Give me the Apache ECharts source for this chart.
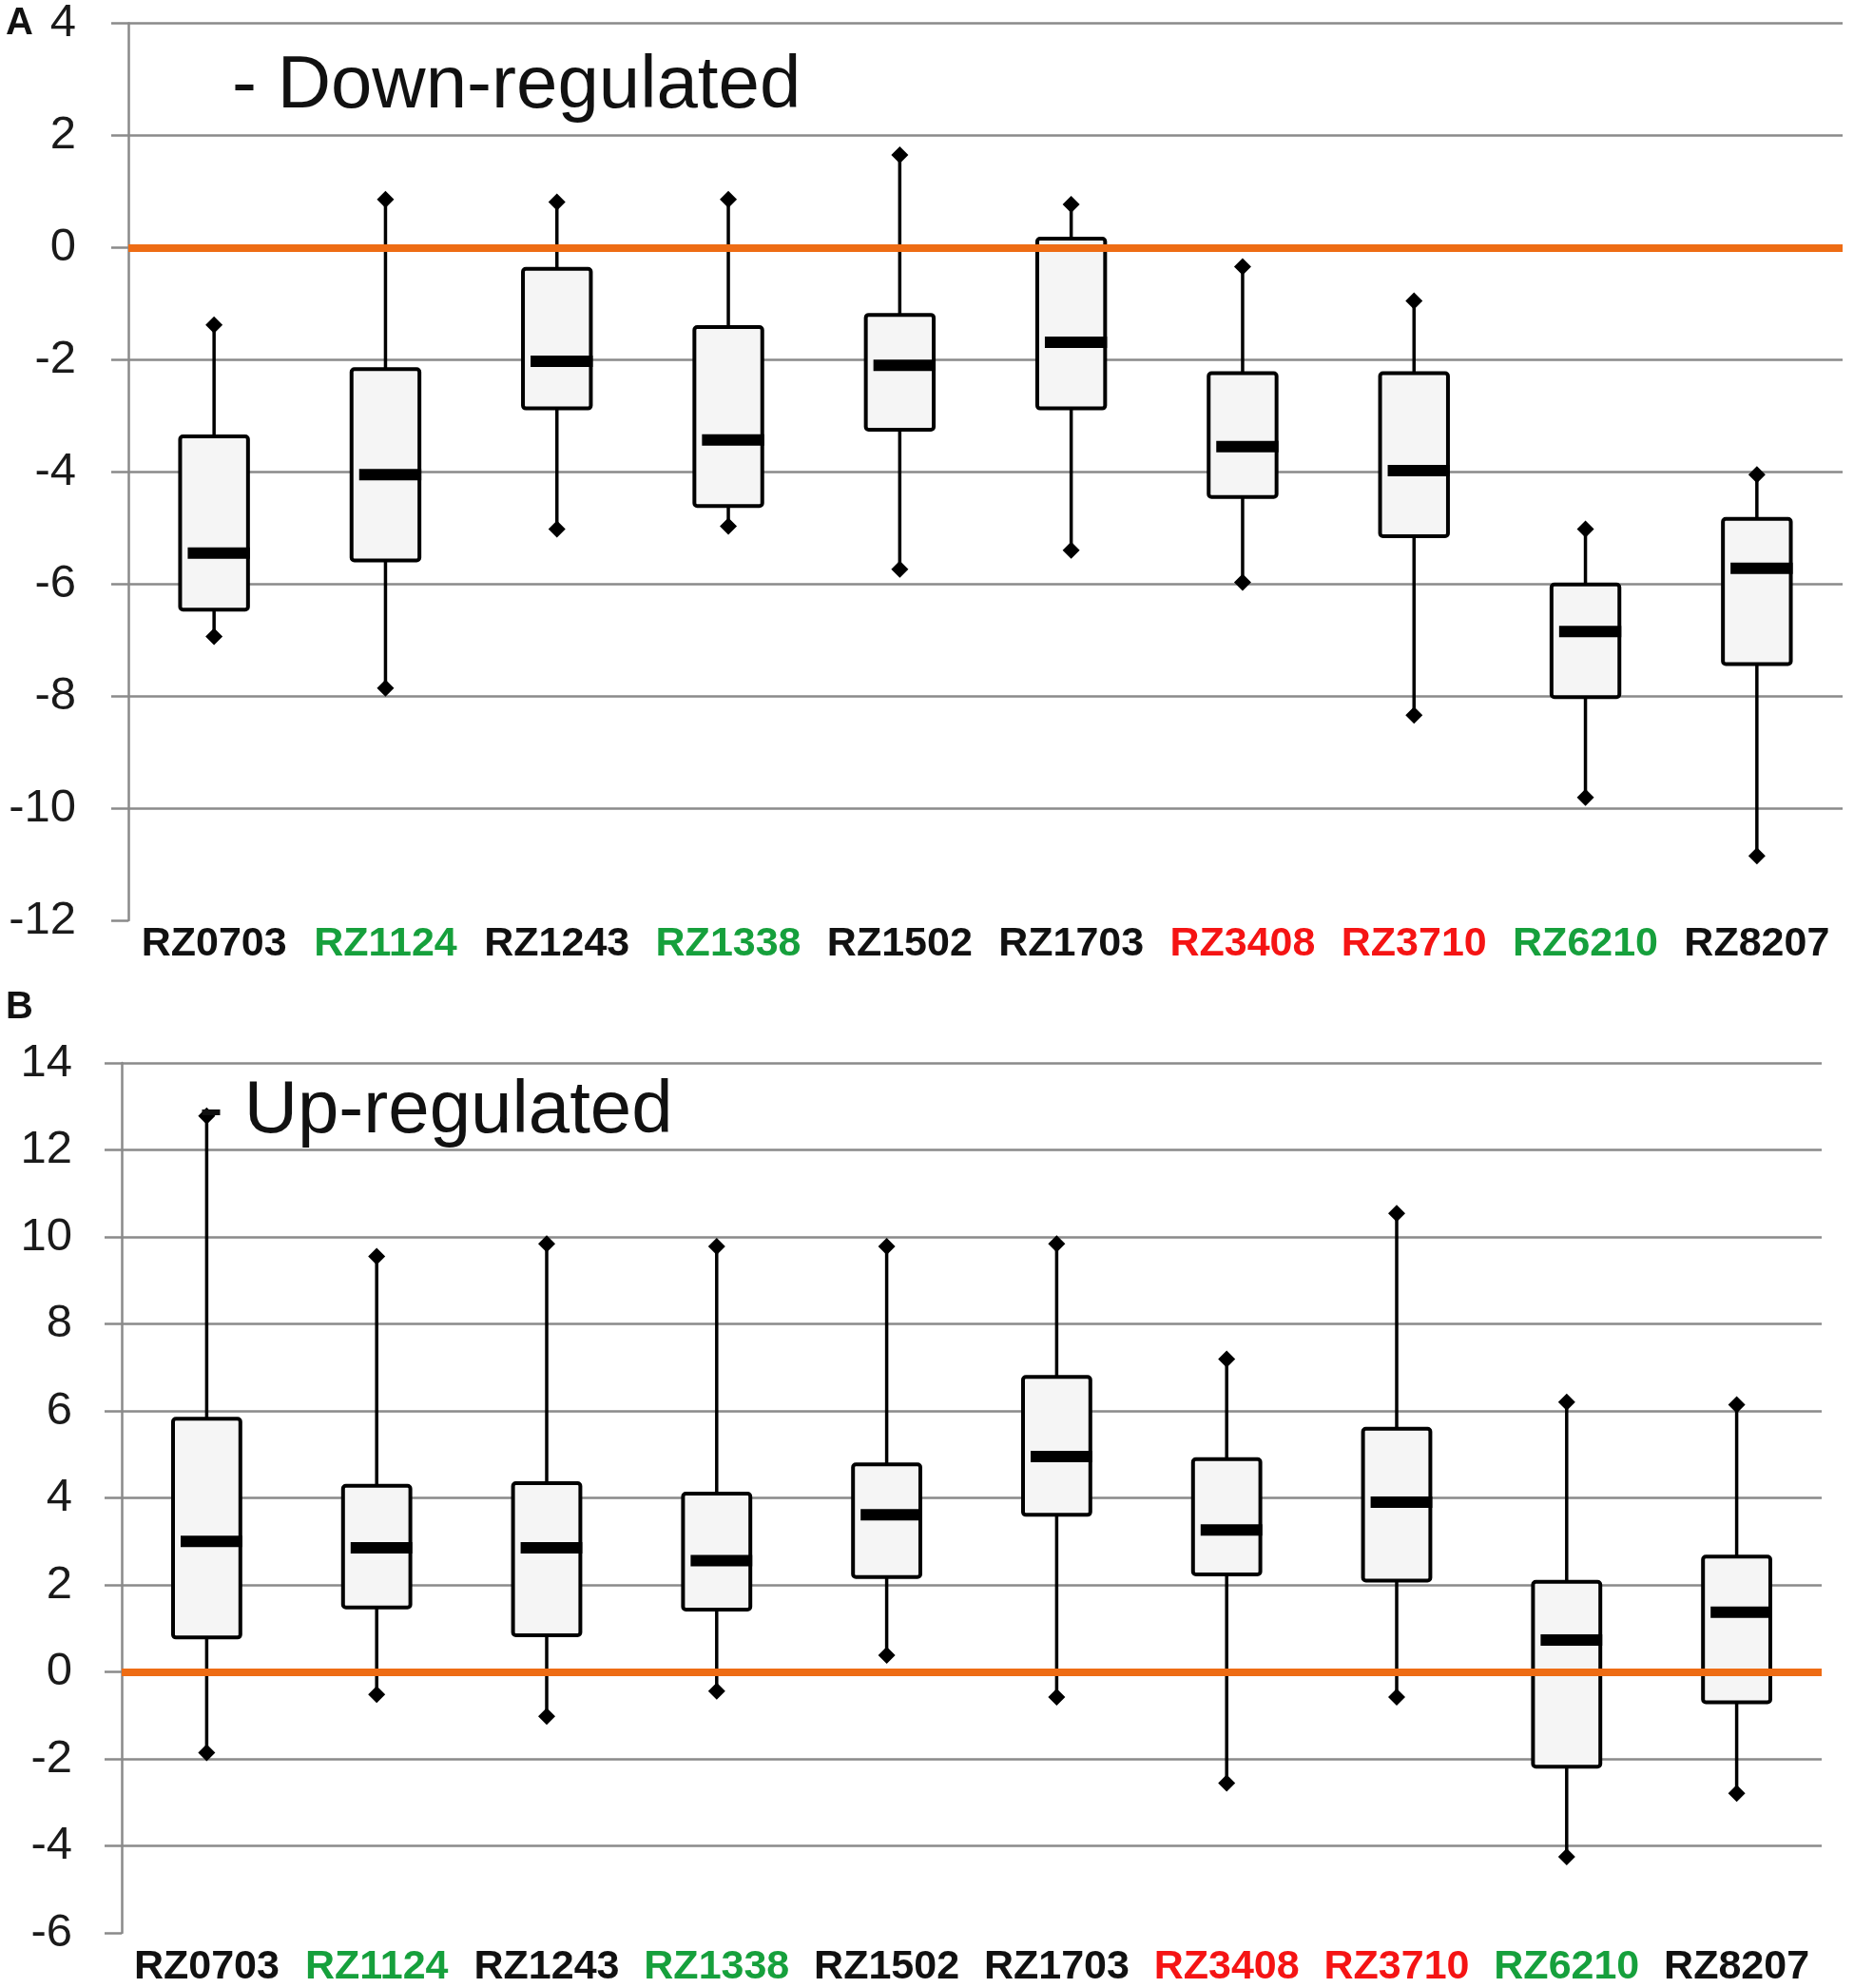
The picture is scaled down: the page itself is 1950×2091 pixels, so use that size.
<!DOCTYPE html>
<html>
<head>
<meta charset="utf-8">
<script src="https://cdn.jsdelivr.net/npm/echarts@6/dist/echarts.min.js"></script>
<style>
  html, body { margin: 0; padding: 0; background: #fff; }
  #chart { width: 1950px; height: 2091px; }
</style>
</head>
<body>
<div id="chart"></div>
<script>
const categories = ["RZ0703", "RZ1124", "RZ1243", "RZ1338", "RZ1502", "RZ1703", "RZ3408", "RZ3710", "RZ6210", "RZ8207"];
const greenLabels = ["RZ1124", "RZ1338", "RZ6210"];
const redLabels = ["RZ3408", "RZ3710"];

// panel A: down-regulated
const downMin = [-6.94, -7.86, -5.02, -4.97, -5.74, -5.40, -5.97, -8.34, -9.81, -10.85];
const downQ1 = [-6.46, -5.58, -2.87, -4.61, -3.25, -2.87, -4.45, -5.15, -8.02, -7.43];
const downMedian = [-5.45, -4.05, -2.03, -3.43, -2.10, -1.69, -3.55, -3.98, -6.85, -5.72];
const downQ3 = [-3.37, -2.17, -0.38, -1.42, -1.20, 0.16, -2.24, -2.24, -6.01, -4.84];
const downMax = [-1.38, 0.86, 0.81, 0.86, 1.65, 0.77, -0.34, -0.95, -5.02, -4.05];

// panel B: up-regulated
const upMin = [-1.86, -0.52, -1.02, -0.44, 0.38, -0.58, -2.56, -0.58, -4.25, -2.79];
const upQ1 = [0.79, 1.48, 0.84, 1.43, 2.18, 3.61, 2.24, 2.10, -2.18, -0.70];
const upMedian = [3.00, 2.85, 2.85, 2.56, 3.61, 4.95, 3.26, 3.90, 0.73, 1.37];
const upQ3 = [5.82, 4.28, 4.34, 4.10, 4.77, 6.78, 4.89, 5.59, 2.07, 2.65];
const upMax = [12.78, 9.55, 9.84, 9.78, 9.78, 9.84, 7.19, 10.54, 6.20, 6.14];

const FONT = "'Liberation Sans', Arial, sans-serif";
const GRID_GRAY = "#8a8a8a";

function boxRows(mins, q1s, meds, q3s, maxs) {
    return categories.map((c, i) => [i, mins[i], q1s[i], meds[i], q3s[i], maxs[i]]);
}

function diamond(cx, cy, r) {
    return {
        type: "polygon",
        shape: { points: [[cx, cy - r], [cx + r, cy], [cx, cy + r], [cx - r, cy]] },
        style: { fill: "#000" },
    };
}

function renderBox(params, api) {
    const i = api.value(0);
    const pMin = api.coord([i, api.value(1)]);
    const pQ1 = api.coord([i, api.value(2)]);
    const pMed = api.coord([i, api.value(3)]);
    const pQ3 = api.coord([i, api.value(4)]);
    const pMax = api.coord([i, api.value(5)]);
    const cx = pMed[0];
    const half = api.size([1, 0])[0] * 0.198;
    return {
        type: "group",
        children: [
            {
                type: "line",
                shape: { x1: cx, y1: pMax[1], x2: cx, y2: pMin[1] },
                style: { stroke: "#000", lineWidth: 3.5 },
            },
            {
                type: "rect",
                shape: { x: cx - half, y: pQ3[1], width: half * 2, height: pQ1[1] - pQ3[1], r: 3 },
                style: { fill: "#f5f5f5", stroke: "#000", lineWidth: 4 },
            },
            {
                type: "rect",
                shape: { x: cx - half + 8, y: pMed[1] - 6, width: half * 2 - 6, height: 12 },
                style: { fill: "#000" },
            },
            diamond(cx, pMax[1], 9),
            diamond(cx, pMin[1], 9),
        ],
    };
}

function labelFormatter(v) {
    if (greenLabels.includes(v)) return "{g|" + v + "}";
    if (redLabels.includes(v)) return "{r|" + v + "}";
    return "{k|" + v + "}";
}

const richLabels = {
    k: { color: "#111", fontWeight: "bold", fontSize: 43, fontFamily: FONT },
    g: { color: "#16a03c", fontWeight: "bold", fontSize: 43, fontFamily: FONT },
    r: { color: "#f51414", fontWeight: "bold", fontSize: 43, fontFamily: FONT },
};

function splitColors(n) {
    const arr = ["rgba(0,0,0,0)"];
    for (let k = 1; k < n; k++) arr.push(GRID_GRAY);
    return arr;
}

function makeY(gridIndex, min, max, labelMargin) {
    return {
        type: "value",
        gridIndex: gridIndex,
        min: min,
        max: max,
        interval: 2,
        axisLine: { show: true, lineStyle: { color: GRID_GRAY, width: 2.5 } },
        axisTick: { show: true, length: 18, lineStyle: { color: GRID_GRAY, width: 2.5 } },
        axisLabel: { fontSize: 49, color: "#1a1a1a", fontFamily: FONT, margin: labelMargin },
        splitLine: { show: true, lineStyle: { color: splitColors((max - min) / 2 + 1), width: 2.5 } },
    };
}

function makeX(gridIndex, labelMargin) {
    return {
        type: "category",
        gridIndex: gridIndex,
        data: categories,
        axisLine: { show: false },
        axisTick: { show: false },
        splitLine: { show: false },
        axisLabel: { interval: 0, margin: labelMargin, formatter: labelFormatter, rich: richLabels },
    };
}

function zeroLine(idx) {
    return {
        type: "line",
        xAxisIndex: idx,
        yAxisIndex: idx,
        data: [],
        z: 10,
        markLine: {
            silent: true,
            symbol: "none",
            label: { show: false },
            lineStyle: { color: "#ee6c14", width: 8, type: "solid" },
            data: [{ yAxis: 0 }],
        },
    };
}

const chart = echarts.init(document.getElementById("chart"));
chart.setOption({
    animation: false,
    backgroundColor: "#fff",
    title: [
        { text: "A", left: 6, top: 5, padding: 0, textStyle: { fontSize: 40, fontWeight: "bold", color: "#111", fontFamily: FONT } },
        { text: "B", left: 6, top: 1040, padding: 0, textStyle: { fontSize: 40, fontWeight: "bold", color: "#111", fontFamily: FONT } },
        { text: "- Down-regulated", left: 244, top: 52, padding: 0, textStyle: { fontSize: 78, fontWeight: "normal", color: "#111", fontFamily: FONT } },
        { text: "- Up-regulated", left: 209, top: 1130, padding: 0, textStyle: { fontSize: 78, fontWeight: "normal", color: "#111", fontFamily: FONT } },
    ],
    grid: [
        { left: 135, right: 12, top: 24, height: 944 },
        { left: 128, right: 34, top: 1118, height: 916 },
    ],
    xAxis: [makeX(0, 4), makeX(1, 15)],
    yAxis: [makeY(0, -12, 4, 55), makeY(1, -6, 14, 52)],
    series: [
        {
            type: "custom",
            xAxisIndex: 0,
            yAxisIndex: 0,
            z: 3,
            renderItem: renderBox,
            encode: { x: 0, y: [1, 2, 3, 4, 5] },
            data: boxRows(downMin, downQ1, downMedian, downQ3, downMax),
        },
        {
            type: "custom",
            xAxisIndex: 1,
            yAxisIndex: 1,
            z: 3,
            renderItem: renderBox,
            encode: { x: 0, y: [1, 2, 3, 4, 5] },
            data: boxRows(upMin, upQ1, upMedian, upQ3, upMax),
        },
        zeroLine(0),
        zeroLine(1),
    ],
});
</script>
</body>
</html>
